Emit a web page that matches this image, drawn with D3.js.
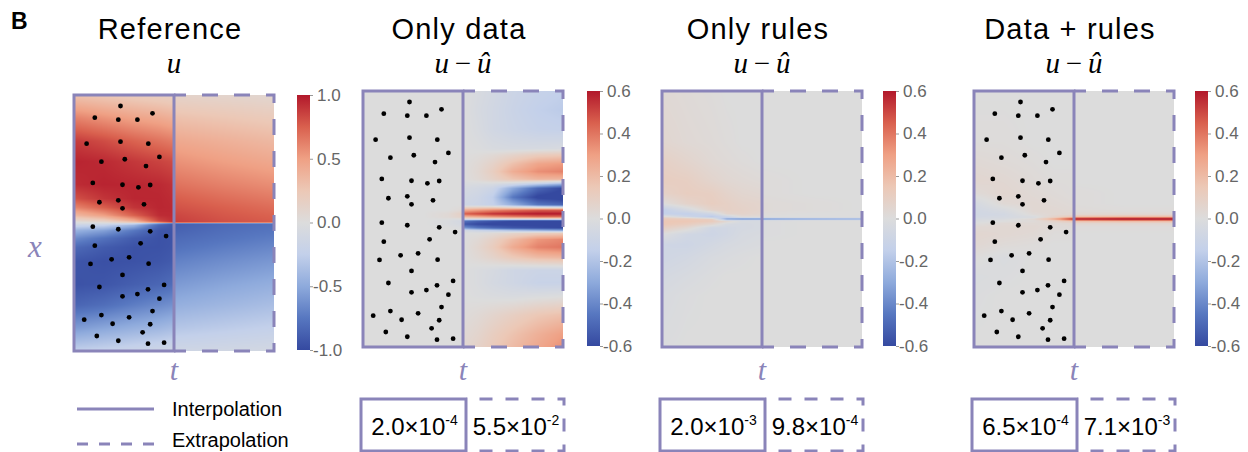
<!DOCTYPE html>
<html>
<head>
<meta charset="utf-8">
<script src="https://cdn.jsdelivr.net/npm/d3@7"></script>
<style>
  body { margin: 0; background: #fff; }
  .title { font-family: "Liberation Sans", Arial, sans-serif; font-size: 29px; letter-spacing: 1.2px; fill: #000; }
  .math { font-family: "Liberation Serif", "Times New Roman", serif; font-style: italic; }
  .legend text, .err text { font-family: "Liberation Sans", Arial, sans-serif; fill: #000; }
</style>
</head>
<body>
<div id="fig"></div>
<script>
// ---- data ----
var titles = ["Reference", "Only data", "Only rules", "Data + rules"];
var colorMax = [1.0, 0.6, 0.6, 0.6];
var cbTicks = [
  [1.0, 0.5, 0.0, -0.5, -1.0],
  [0.6, 0.4, 0.2, 0.0, -0.2, -0.4, -0.6],
  [0.6, 0.4, 0.2, 0.0, -0.2, -0.4, -0.6],
  [0.6, 0.4, 0.2, 0.0, -0.2, -0.4, -0.6]
];
var showDots = [true, true, false, true];

// relative error, interpolation / extrapolation (panels 2-4)
var errMant = [["2.0", "5.5"], ["2.0", "9.8"], ["6.5", "7.1"]];
var errExp = [["-4", "-2"], ["-3", "-4"], ["-4", "-3"]];

// training points: t in [0,1] (interpolation window), x in [-1,1]
var dotT = [.465,.208,.443,.634,.785,.126,.465,.743,.274,.508,.720,.854,.188,.485,.644,.762,
            .254,.443,.485,.700,.188,.443,.762,.921,.208,.666,.165,.376,.551,.746,.485,.254,
            .485,.634,.740,.901,.854,.785,.102,.274,.386,.551,.762,.686,.228,.443,.740,.901];
var dotX = [.914,.823,.807,.807,.857,.620,.635,.620,.479,.498,.445,.516,.313,.299,.279,.297,
            .162,.177,.115,.146,-.029,-.049,-.065,-.102,-.177,-.159,-.320,-.284,-.268,-.318,-.406,-.500,
            -.573,-.555,-.518,-.484,-.591,-.688,-.755,-.719,-.787,-.737,-.791,-.854,-.883,-.920,-.943,-.935];

// fields sampled on grids: t in [0,2] (columns), x in [-1,1] (rows, top to bottom)
var refCols = [0, 0.3, 0.6, 0.85, 0.999, 1.001, 1.5, 2.0];
var refRows = [1, .82, .64, .48, .3, .19, .12, .06, .02, .005, -.005, -.02, -.06, -.12, -.19, -.3, -.48, -.64, -.82, -1];
var refVals = [
  [.28, .24, .20, .17, .15, .12, .10, .08],
  [.62, .55, .48, .44, .40, .30, .26, .22],
  [.88, .82, .74, .68, .64, .45, .40, .35],
  [.96, .94, .89, .85, .82, .56, .50, .45],
  [.93, .96, .95, .94, .91, .68, .62, .57],
  [.80, .90, .95, .95, .93, .76, .70, .65],
  [.60, .75, .90, .95, .94, .80, .75, .70],
  [.35, .50, .75, .93, .94, .84, .78, .74],
  [.10, .20, .45, .85, .93, .86, .80, .76],
  [-.02, .05, .25, .70, .92, .87, .80, .76],
  [-.07, -.08, -.20, -.70, -.92, -.88, -.82, -.78],
  [-.20, -.25, -.45, -.85, -.93, -.88, -.82, -.78],
  [-.45, -.55, -.75, -.93, -.94, -.86, -.80, -.76],
  [-.65, -.78, -.90, -.95, -.94, -.82, -.77, -.72],
  [-.82, -.90, -.95, -.95, -.93, -.78, -.72, -.67],
  [-.93, -.96, -.95, -.93, -.90, -.70, -.64, -.59],
  [-.95, -.93, -.88, -.84, -.80, -.58, -.52, -.47],
  [-.85, -.80, -.72, -.66, -.62, -.47, -.42, -.37],
  [-.58, -.52, -.46, -.42, -.38, -.32, -.28, -.24],
  [-.25, -.22, -.18, -.15, -.13, -.14, -.12, -.10]
];

var dataCols = [0, 0.6, 0.85, 0.999, 1.001, 1.15, 1.3, 1.5, 1.75, 2.0];
var dataRows = [1, .85, .7, .55, .5, .43, .37, .31, .27, .24, .17, .11, .07, .04, .015, 0, -.015, -.04, -.07, -.09, -.11, -.16, -.22, -.3, -.4, -.5, -.6, -.75, -.9, -1];
var dataVals = [
  [0, 0, 0, 0, 0, -.03, -.06, -.10, -.13, -.15],
  [0, 0, 0, 0, 0, -.04, -.07, -.11, -.15, -.17],
  [0, 0, 0, 0, 0, -.03, -.07, -.10, -.13, -.14],
  [0, 0, 0, 0, 0, -.01, -.03, -.04, -.04, -.03],
  [0, 0, 0, 0, 0, .01, .03, .07, .12, .14],
  [0, 0, 0, 0, 0, .03, .08, .18, .28, .31],
  [0, 0, 0, 0, 0, .04, .11, .25, .34, .37],
  [0, 0, 0, 0, 0, .03, .08, .16, .22, .22],
  [0, 0, 0, 0, -.02, -.03, -.04, -.10, -.20, -.30],
  [0, 0, 0, 0, -.04, -.06, -.10, -.30, -.50, -.60],
  [0, 0, 0, 0, -.06, -.09, -.16, -.45, -.62, -.65],
  [0, 0, 0, 0, -.08, -.10, -.14, -.28, -.45, -.50],
  [0, 0, 0, .03, .25, .30, .35, .40, .45, .45],
  [0, 0, .03, .10, .45, .50, .55, .58, .60, .60],
  [0, 0, .03, .08, .20, .25, .30, .35, .40, .40],
  [0, 0, 0, 0, 0, 0, 0, 0, 0, 0],
  [0, 0, -.02, -.06, -.45, -.52, -.56, -.60, -.62, -.62],
  [0, 0, -.02, -.05, -.55, -.60, -.62, -.62, -.62, -.62],
  [0, 0, 0, -.02, -.35, -.45, -.50, -.55, -.58, -.60],
  [0, 0, 0, 0, -.05, -.10, -.15, -.20, -.25, -.30],
  [0, 0, 0, 0, 0, 0, .02, .06, .10, .12],
  [0, 0, 0, 0, 0, .03, .09, .20, .32, .36],
  [0, 0, 0, 0, 0, .05, .12, .26, .37, .40],
  [0, 0, 0, 0, 0, .03, .07, .14, .20, .22],
  [0, 0, 0, 0, 0, -.02, -.04, -.08, -.10, -.10],
  [0, 0, 0, 0, 0, -.02, -.05, -.08, -.12, -.12],
  [0, 0, 0, 0, 0, -.01, -.02, -.03, -.02, -.01],
  [0, 0, 0, 0, .01, .03, .06, .10, .15, .18],
  [0, 0, 0, 0, .03, .06, .11, .17, .24, .30],
  [0, 0, 0, 0, .04, .08, .13, .20, .27, .34]
];

var rulesCols = [0, .25, .5, .65, .8, .999, 1.001, 1.5, 2.0];
var rulesRows = [1, .6, .45, .3, .2, .12, .07, .04, .02, .008, 0, -.008, -.02, -.04, -.07, -.12, -.2, -.3, -.45, -.6, -1];
var rulesVals = [
  [.03, .02, .01, 0, 0, 0, 0, 0, 0],
  [.05, .03, .02, .01, 0, 0, 0, 0, 0],
  [.09, .06, .03, .02, .01, 0, 0, 0, 0],
  [.11, .10, .06, .04, .03, .02, .01, 0, 0],
  [.08, .11, .10, .07, .05, .04, .01, 0, 0],
  [0, .07, .11, .09, .07, .06, .02, .01, 0],
  [-.15, -.05, .07, .09, .08, .06, .02, .01, 0],
  [-.14, -.15, -.08, .06, .07, .05, .01, 0, 0],
  [.02, -.10, -.17, -.08, .03, .03, 0, 0, 0],
  [.10, .05, -.08, -.18, -.10, -.08, -.08, -.05, -.05],
  [.13, .13, .10, -.35, -.45, -.45, -.45, -.40, -.36],
  [.14, .14, .12, -.12, -.10, -.08, -.08, -.05, -.05],
  [.15, .15, .12, .04, -.04, -.04, -.01, 0, 0],
  [.15, .12, .05, -.04, -.05, -.04, -.01, 0, 0],
  [.10, .04, -.08, -.07, -.05, -.04, -.01, 0, 0],
  [0, -.07, -.09, -.07, -.04, -.03, -.01, 0, 0],
  [-.08, -.09, -.06, -.04, -.03, -.02, 0, 0, 0],
  [-.08, -.06, -.03, -.02, -.01, 0, 0, 0, 0],
  [-.05, -.03, -.01, 0, 0, 0, 0, 0, 0],
  [-.03, -.01, 0, 0, 0, 0, 0, 0, 0],
  [-.01, 0, 0, 0, 0, 0, 0, 0, 0]
];

var bothCols = [0, .3, .6, .8, .999, 1.001, 1.5, 2.0];
var bothRows = [1, .6, .45, .3, .2, .12, .06, .035, .018, .008, 0, -.008, -.018, -.035, -.06, -.12, -.2, -.3, -.45, -.6, -1];
var bothVals = [
  [0, 0, 0, 0, 0, 0, 0, 0],
  [.01, .01, 0, 0, 0, 0, 0, 0],
  [.03, .02, .01, 0, 0, 0, 0, 0],
  [.05, .04, .02, .01, .01, 0, 0, 0],
  [.02, .05, .03, .02, .01, .01, 0, 0],
  [-.05, .03, .04, .03, .02, .01, 0, 0],
  [-.07, -.04, .04, .04, .03, .02, .01, .01],
  [-.07, -.06, .02, .04, .05, .05, .05, .05],
  [-.06, -.05, -.02, .07, .14, .18, .20, .20],
  [-.05, -.04, -.02, .14, .40, .46, .50, .50],
  [-.04, -.03, .05, .28, .58, .60, .62, .62],
  [-.03, -.01, .02, .14, .40, .46, .50, .50],
  [-.02, 0, .02, .07, .14, .18, .20, .20],
  [0, .03, .03, .03, .04, .05, .05, .05],
  [.03, .04, .04, .02, .02, .01, .01, .01],
  [.05, .04, .03, .01, .01, 0, 0, 0],
  [.04, .02, .01, 0, 0, 0, 0, 0],
  [.01, -.02, 0, 0, 0, 0, 0, 0],
  [-.02, -.01, 0, 0, 0, 0, 0, 0],
  [-.01, 0, 0, 0, 0, 0, 0, 0],
  [0, 0, 0, 0, 0, 0, 0, 0]
];

var fields = [
  {cols: refCols, rows: refRows, vals: refVals},
  {cols: dataCols, rows: dataRows, vals: dataVals},
  {cols: rulesCols, rows: rulesRows, vals: rulesVals},
  {cols: bothCols, rows: bothRows, vals: bothVals}
];

// ---- layout ----
var W = 1248, H = 452;
var purple = "#8a84b9";
var panelLeft = [74, 363, 662, 974];
var panelTop = [95, 91, 91, 91];
var pw = 200, ph = 256;
var cbLeft = [297, 587, 883, 1195], cbW = 13;

var cmapStops = [-1, -.75, -.5, -.25, 0, .25, .5, .75, 1];
var cmapColors = ["#3549a0", "#5777c0", "#8eaadc", "#c3d0ea", "#dcdcdc", "#ecc8b6", "#efa084", "#d9604e", "#b2182b"];

var svg = d3.select("#fig").append("svg")
    .attr("width", W)
    .attr("height", H)
    .style("display", "block");

svg.append("text")
    .attr("x", 11).attr("y", 29)
    .style("font-family", "Liberation Sans, Arial, sans-serif")
    .style("font-weight", "bold").style("font-size", "23px")
    .text("B");

// dashed U-shape (top, right, bottom) with dashes centred on the corners
function dashedU(g, x0, y0, w, h, period) {
  var start = w - period / 4;
  var off = period - (start % period);
  g.append("path")
      .attr("d", "M" + x0 + "," + y0 + "H" + (x0 + w) + "V" + (y0 + h) + "H" + x0)
      .attr("fill", "none")
      .attr("stroke", purple)
      .attr("stroke-width", 3)
      .attr("stroke-dasharray", (period / 2) + " " + (period / 2))
      .attr("stroke-dashoffset", off);
}

function drawField(f, tS, xS, color) {
  var canvas = document.createElement("canvas");
  canvas.width = pw; canvas.height = ph;
  var ctx = canvas.getContext("2d");
  var img = ctx.createImageData(pw, ph);
  var rowsAsc = f.rows.slice().reverse();
  for (var py = 0; py < ph; py++) {
    var x = xS.invert(xS.range()[1] + py + 0.5);
    var ja = Math.max(0, Math.min(rowsAsc.length - 2, d3.bisectRight(rowsAsc, x) - 1));
    var j = f.rows.length - 1 - ja; // lower row index (smaller x)
    var fy = (x - rowsAsc[ja]) / (rowsAsc[ja + 1] - rowsAsc[ja]);
    for (var px = 0; px < pw; px++) {
      var t = tS.invert(tS.range()[0] + px + 0.5);
      var i = Math.max(0, Math.min(f.cols.length - 2, d3.bisectRight(f.cols, t) - 1));
      var fx = (t - f.cols[i]) / (f.cols[i + 1] - f.cols[i]);
      var lo = f.vals[j][i] * (1 - fx) + f.vals[j][i + 1] * fx;
      var hi = f.vals[j - 1][i] * (1 - fx) + f.vals[j - 1][i + 1] * fx;
      var v = lo * (1 - fy) + hi * fy;
      var c = d3.rgb(color(v));
      var k = (py * pw + px) * 4;
      img.data[k] = c.r; img.data[k + 1] = c.g; img.data[k + 2] = c.b; img.data[k + 3] = 255;
    }
  }
  ctx.putImageData(img, 0, 0);
  return canvas.toDataURL();
}

titles.forEach(function(title, p) {
  var left = panelLeft[p], top = panelTop[p];
  var tS = d3.scaleLinear().domain([0, 2]).range([left, left + pw]);
  var xS = d3.scaleLinear().domain([-1, 1]).range([top + ph, top]);
  var m = colorMax[p];
  var color = d3.scaleLinear()
      .domain(cmapStops.map(function(d) { return d * m; }))
      .range(cmapColors)
      .clamp(true);
  var g = svg.append("g");
  var cx = left + pw / 2;

  g.append("text").attr("class", "title")
      .attr("x", cx - 4).attr("y", 39)
      .attr("text-anchor", "middle")
      .text(title);

  var sub = g.append("text").attr("class", "math")
      .attr("x", cx).attr("y", 73)
      .attr("text-anchor", "middle")
      .style("font-size", "29px");
  if (p === 0) {
    sub.text("u");
  } else {
    sub.append("tspan").text("u");
    sub.append("tspan").style("font-style", "normal").text("\u2009\u2212\u2009");
    sub.append("tspan").text("\u00fb");
  }

  g.append("image")
      .attr("x", left).attr("y", top)
      .attr("width", pw).attr("height", ph)
      .attr("preserveAspectRatio", "none")
      .attr("href", drawField(fields[p], tS, xS, color));

  if (showDots[p]) {
    g.selectAll("circle.dot")
        .data(d3.range(dotT.length))
      .enter().append("circle")
        .attr("class", "dot")
        .attr("cx", function(i) { return tS(dotT[i]); })
        .attr("cy", function(i) { return xS(dotX[i]); })
        .attr("r", 2.4)
        .attr("fill", "#000");
  }

  // interpolation (solid) and extrapolation (dashed) windows
  g.append("rect")
      .attr("x", tS(0)).attr("y", top)
      .attr("width", tS(1) - tS(0)).attr("height", ph)
      .attr("fill", "none").attr("stroke", purple).attr("stroke-width", 3);
  dashedU(g, tS(1), top, tS(2) - tS(1), ph, 32);

  g.append("text").attr("class", "math")
      .attr("x", cx).attr("y", 380)
      .attr("text-anchor", "middle")
      .style("font-size", "30px").attr("fill", purple)
      .text("t");

  // colorbar
  var gradId = "grad" + p;
  var grad = svg.append("defs").append("linearGradient")
      .attr("id", gradId)
      .attr("x1", 0).attr("y1", 1).attr("x2", 0).attr("y2", 0);
  cmapStops.forEach(function(s, k) {
    grad.append("stop")
        .attr("offset", (s + 1) / 2)
        .attr("stop-color", cmapColors[k]);
  });
  var cS = d3.scaleLinear().domain([-m, m]).range([top + ph - 1, top]);
  var cb = g.append("g").attr("class", "cbar");
  cb.append("rect")
      .attr("x", cbLeft[p]).attr("y", cS(m))
      .attr("width", cbW).attr("height", cS(-m) - cS(m))
      .attr("fill", "url(#" + gradId + ")");
  var axis = d3.axisRight(cS)
      .tickValues(cbTicks[p])
      .tickSize(3)
      .tickPadding(3)
      .tickFormat(d3.format(".1f"));
  var ax = cb.append("g")
      .attr("transform", "translate(" + (cbLeft[p] + cbW) + ",0)")
      .call(axis);
  ax.select(".domain").remove();
  ax.selectAll(".tick line").attr("stroke", "#999");
  ax.selectAll(".tick text")
      .attr("fill", "#666")
      .style("font-family", "Liberation Sans, Arial, sans-serif")
      .style("font-size", "17px")
      .text(function(d) { return d < 0 ? "-" + d3.format(".1f")(-d) : d3.format(".1f")(d); })
      .attr("x", function(d) { return d < 0 ? 3 : 7; });

  // error boxes
  if (p > 0) {
    var e = p - 1;
    var bx0 = left - 2, bx1 = left + 103, bx2 = left + 201;
    var by = 399, bh = 52;
    var eg = g.append("g").attr("class", "err");
    eg.append("rect")
        .attr("x", bx0).attr("y", by)
        .attr("width", bx1 - bx0).attr("height", bh)
        .attr("fill", "none").attr("stroke", purple).attr("stroke-width", 3);
    dashedU(eg, bx1, by, bx2 - bx1, bh, 26);
    [[bx0, bx1], [bx1, bx2]].forEach(function(b, k) {
      var tx = eg.append("text")
          .attr("x", (b[0] + b[1]) / 2 + 1).attr("y", 435)
          .attr("text-anchor", "middle")
          .style("font-size", "24px");
      tx.append("tspan").text(errMant[e][k] + "\u00d710");
      tx.append("tspan").attr("dy", -10).style("font-size", "14px").text(errExp[e][k]);
    });
  }
});

// x axis label
svg.append("text").attr("class", "math")
    .attr("x", 35).attr("y", 257)
    .attr("text-anchor", "middle")
    .style("font-size", "31px").attr("fill", purple)
    .text("x");

// legend
var lg = svg.append("g").attr("class", "legend");
lg.append("line")
    .attr("x1", 77).attr("x2", 154).attr("y1", 409).attr("y2", 409)
    .attr("stroke", purple).attr("stroke-width", 3);
lg.append("line")
    .attr("x1", 77).attr("x2", 154).attr("y1", 444).attr("y2", 444)
    .attr("stroke", purple).attr("stroke-width", 3)
    .attr("stroke-dasharray", "11 11");
lg.append("text").attr("x", 172).attr("y", 416).style("font-size", "20px").text("Interpolation");
lg.append("text").attr("x", 172).attr("y", 447).style("font-size", "20px").text("Extrapolation");
</script>
</body>
</html>
